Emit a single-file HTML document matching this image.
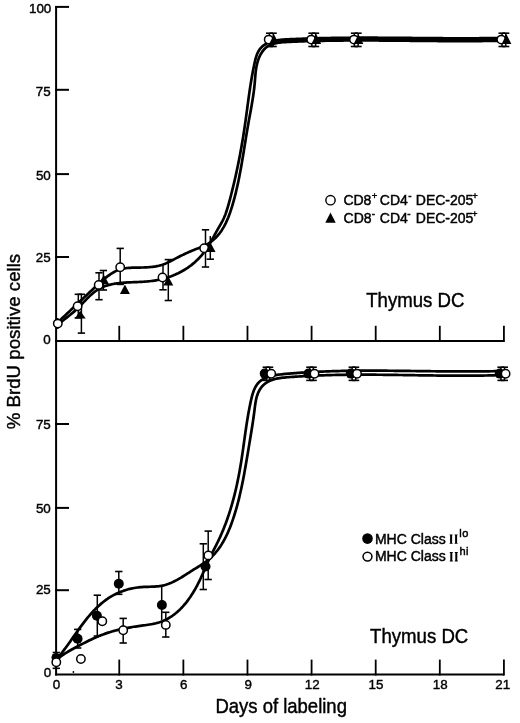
<!DOCTYPE html>
<html><head><meta charset="utf-8"><style>
html,body{margin:0;padding:0;background:#fff;}
svg{display:block;will-change:transform;}
text{font-family:"Liberation Sans",sans-serif;fill:#000;}
text.serif{font-family:"Liberation Serif",serif;}
</style></head><body>
<svg width="520" height="723" viewBox="0 0 520 723">
<rect width="520" height="723" fill="#fff"/>
<line x1="56.1" y1="5.9" x2="56.1" y2="675.5" stroke="#000" stroke-width="2.0"/>
<line x1="55.1" y1="6.9" x2="69" y2="6.9" stroke="#000" stroke-width="2.0"/>
<line x1="55.1" y1="89.8" x2="69" y2="89.8" stroke="#000" stroke-width="2.0"/>
<line x1="55.1" y1="174.1" x2="69" y2="174.1" stroke="#000" stroke-width="2.0"/>
<line x1="55.1" y1="257.0" x2="69" y2="257.0" stroke="#000" stroke-width="2.0"/>
<line x1="55.1" y1="424.0" x2="69" y2="424.0" stroke="#000" stroke-width="2.0"/>
<line x1="55.1" y1="507.9" x2="69" y2="507.9" stroke="#000" stroke-width="2.0"/>
<line x1="55.1" y1="590.2" x2="69" y2="590.2" stroke="#000" stroke-width="2.0"/>
<line x1="55.1" y1="341.0" x2="504.3" y2="341.0" stroke="#000" stroke-width="2.0"/>
<line x1="119.26" y1="325.8" x2="119.26" y2="342.0" stroke="#000" stroke-width="1.8"/>
<line x1="183.37" y1="325.8" x2="183.37" y2="342.0" stroke="#000" stroke-width="1.8"/>
<line x1="247.48" y1="325.8" x2="247.48" y2="342.0" stroke="#000" stroke-width="1.8"/>
<line x1="311.59" y1="325.8" x2="311.59" y2="342.0" stroke="#000" stroke-width="1.8"/>
<line x1="375.70" y1="325.8" x2="375.70" y2="342.0" stroke="#000" stroke-width="1.8"/>
<line x1="439.81" y1="325.8" x2="439.81" y2="342.0" stroke="#000" stroke-width="1.8"/>
<line x1="503.92" y1="325.8" x2="503.92" y2="342.0" stroke="#000" stroke-width="1.8"/>
<line x1="55.1" y1="674.5" x2="504.3" y2="674.5" stroke="#000" stroke-width="2.0"/>
<line x1="119.26" y1="659.6" x2="119.26" y2="675.5" stroke="#000" stroke-width="1.8"/>
<line x1="183.37" y1="659.6" x2="183.37" y2="675.5" stroke="#000" stroke-width="1.8"/>
<line x1="247.48" y1="659.6" x2="247.48" y2="675.5" stroke="#000" stroke-width="1.8"/>
<line x1="311.59" y1="659.6" x2="311.59" y2="675.5" stroke="#000" stroke-width="1.8"/>
<line x1="375.70" y1="659.6" x2="375.70" y2="675.5" stroke="#000" stroke-width="1.8"/>
<line x1="439.81" y1="659.6" x2="439.81" y2="675.5" stroke="#000" stroke-width="1.8"/>
<line x1="503.92" y1="659.6" x2="503.92" y2="675.5" stroke="#000" stroke-width="1.8"/>
<text x="51.3" y="13.0" font-size="13.4" text-anchor="end" stroke="#000" stroke-width="0.4">100</text>
<text x="50.6" y="95.8" font-size="13.4" text-anchor="end" stroke="#000" stroke-width="0.4">75</text>
<text x="50.8" y="179.6" font-size="13.4" text-anchor="end" stroke="#000" stroke-width="0.4">50</text>
<text x="50.6" y="262.2" font-size="13.4" text-anchor="end" stroke="#000" stroke-width="0.4">25</text>
<text x="50.8" y="344.2" font-size="13.4" text-anchor="end" stroke="#000" stroke-width="0.4">0</text>
<text x="50.8" y="428.6" font-size="13.4" text-anchor="end" stroke="#000" stroke-width="0.4">75</text>
<text x="50.8" y="512.5" font-size="13.4" text-anchor="end" stroke="#000" stroke-width="0.4">50</text>
<text x="50.8" y="594.4" font-size="13.4" text-anchor="end" stroke="#000" stroke-width="0.4">25</text>
<text x="51.2" y="676.7" font-size="13.4" text-anchor="end" stroke="#000" stroke-width="0.4">0</text>
<text x="56.5" y="689.2" font-size="13.4" text-anchor="middle" stroke="#000" stroke-width="0.4">0</text>
<text x="118.9" y="689.2" font-size="13.4" text-anchor="middle" stroke="#000" stroke-width="0.4">3</text>
<text x="183.8" y="689.2" font-size="13.4" text-anchor="middle" stroke="#000" stroke-width="0.4">6</text>
<text x="248.3" y="689.2" font-size="13.4" text-anchor="middle" stroke="#000" stroke-width="0.4">9</text>
<text x="312.3" y="689.2" font-size="13.4" text-anchor="middle" stroke="#000" stroke-width="0.4">12</text>
<text x="376.0" y="689.2" font-size="13.4" text-anchor="middle" stroke="#000" stroke-width="0.4">15</text>
<text x="440.3" y="689.2" font-size="13.4" text-anchor="middle" stroke="#000" stroke-width="0.4">18</text>
<text x="502.7" y="689.2" font-size="13.4" text-anchor="middle" stroke="#000" stroke-width="0.4">21</text>
<text transform="translate(215.4,712.7) scale(1,1.05)" x="0" y="0" font-size="18.5" stroke="#000" stroke-width="0.4">Days of labeling</text>
<text transform="translate(20.3,429.3) rotate(-90) scale(1,1.0)" x="0" y="0" font-size="18.7" stroke="#000" stroke-width="0.4">% BrdU positive cells</text>
<text transform="translate(366.2,307.4) scale(1,1.05)" x="0" y="0" font-size="18.6" stroke="#000" stroke-width="0.4">Thymus DC</text>
<text transform="translate(370.1,642.8) scale(1,1.05)" x="0" y="0" font-size="18.6" stroke="#000" stroke-width="0.4">Thymus DC</text>
<path d="M57.67,322.30L58.83,321.24L59.98,320.18L61.12,319.12L62.27,318.06L63.41,317.00L64.55,315.94L65.68,314.88L66.81,313.82L67.94,312.75L69.07,311.69L70.19,310.63L71.32,309.57L72.44,308.51L73.56,307.44L74.68,306.38L75.80,305.32L76.92,304.26L78.04,303.19L79.16,302.13L80.28,301.07L81.40,300.01L82.52,298.94L83.65,297.88L84.77,296.82L85.89,295.76L87.02,294.70L88.15,293.63L89.28,292.57L90.42,291.51L91.56,290.45L92.70,289.39L93.84,288.33L94.99,287.26L96.14,286.20L97.30,285.14L98.46,284.08L99.62,283.02L100.79,281.97L101.97,280.92L103.16,279.88L104.35,278.86L105.56,277.86L106.78,276.89L108.02,275.95L109.27,275.04L110.53,274.16L111.82,273.33L113.12,272.55L114.45,271.82L115.80,271.14L117.17,270.52L118.56,269.97L119.99,269.48L121.44,269.07L122.91,268.72L124.41,268.44L125.93,268.21L127.47,268.02L129.02,267.88L130.59,267.78L132.17,267.70L133.76,267.65L135.35,267.61L136.95,267.59L138.54,267.57L140.14,267.55L141.73,267.52L143.32,267.48L144.90,267.42L146.48,267.35L148.04,267.25L149.60,267.13L151.15,266.99L152.69,266.81L154.21,266.60L155.72,266.36L157.22,266.07L158.70,265.75L160.16,265.38L161.61,264.95L163.04,264.48L164.45,263.95L165.84,263.38L167.22,262.77L168.59,262.12L169.95,261.44L171.31,260.75L172.67,260.05L174.03,259.33L175.39,258.62L176.76,257.92L178.13,257.21L179.51,256.51L180.90,255.82L182.30,255.13L183.71,254.45L185.13,253.78L186.56,253.11L188.01,252.45L189.46,251.81L190.93,251.17L192.42,250.54L193.92,249.93L195.44,249.33L196.97,248.74L198.52,248.16L200.07,247.58L201.60,246.98L203.10,246.35L204.56,245.68L205.98,244.97L207.34,244.22L208.66,243.42L209.93,242.57L211.16,241.69L212.35,240.77L213.50,239.81L214.60,238.81L215.67,237.78L216.69,236.71L217.68,235.61L218.64,234.48L219.56,233.32L220.44,232.13L221.29,230.91L222.11,229.66L222.90,228.39L223.66,227.10L224.39,225.78L225.10,224.44L225.78,223.08L226.43,221.70L227.06,220.31L227.67,218.89L228.26,217.47L228.82,216.03L229.37,214.57L229.90,213.11L230.41,211.64L230.90,210.15L231.38,208.66L231.85,207.17L232.30,205.67L232.74,204.16L233.18,202.66L233.60,201.15L234.01,199.64L234.42,198.13L234.81,196.62L235.20,195.11L235.58,193.59L235.95,192.08L236.31,190.56L236.67,189.05L237.02,187.53L237.36,186.01L237.69,184.49L238.02,182.97L238.34,181.44L238.65,179.92L238.96,178.40L239.27,176.87L239.57,175.35L239.86,173.82L240.15,172.30L240.43,170.77L240.71,169.24L240.99,167.71L241.26,166.18L241.53,164.66L241.79,163.13L242.06,161.60L242.32,160.07L242.57,158.54L242.83,157.01L243.08,155.48L243.33,153.95L243.58,152.42L243.83,150.89L244.08,149.35L244.32,147.82L244.57,146.29L244.82,144.76L245.06,143.23L245.31,141.70L245.56,140.17L245.80,138.65L246.05,137.12L246.30,135.59L246.55,134.06L246.81,132.53L247.06,131.01L247.32,129.48L247.58,127.95L247.85,126.43L248.11,124.91L248.38,123.38L248.65,121.86L248.93,120.34L249.21,118.82L249.49,117.29L249.77,115.77L250.04,114.25L250.32,112.73L250.60,111.21L250.88,109.69L251.15,108.16L251.42,106.64L251.69,105.12L251.95,103.59L252.21,102.06L252.46,100.54L252.71,99.01L252.94,97.48L253.18,95.94L253.40,94.41L253.61,92.87L253.82,91.34L254.01,89.79L254.20,88.25L254.37,86.71L254.53,85.16L254.68,83.61L254.81,82.05L254.94,80.49L255.06,78.94L255.18,77.38L255.31,75.82L255.45,74.25L255.60,72.69L255.78,71.14L255.99,69.58L256.22,68.03L256.50,66.48L256.82,64.93L257.18,63.39L257.60,61.85L258.08,60.33L258.61,58.82L259.20,57.34L259.85,55.90L260.56,54.51L261.33,53.16L262.16,51.88L263.05,50.67L264.00,49.53L265.01,48.49L266.09,47.54L267.23,46.69L268.43,45.93L269.68,45.26L270.98,44.68L272.34,44.17L273.73,43.74L275.16,43.36L276.63,43.05L278.13,42.78L279.65,42.57L281.20,42.39L282.76,42.24L284.34,42.13L285.93,42.03L287.53,41.95L289.13,41.87L290.72,41.80L292.32,41.74L293.91,41.67L295.51,41.61L297.10,41.54L298.69,41.48L300.28,41.43L301.86,41.37L303.45,41.32L305.03,41.26L306.61,41.21L308.19,41.17L309.77,41.12L311.35,41.08L312.93,41.03L314.50,40.99L316.08,40.95L317.65,40.92L319.22,40.88L320.79,40.85L322.36,40.82L323.93,40.79L325.49,40.76L327.06,40.73L328.62,40.70L330.19,40.68L331.75,40.66L333.31,40.63L334.87,40.61L336.43,40.60L337.99,40.58L339.54,40.56L341.10,40.55L342.65,40.53L344.21,40.52L345.76,40.51L347.31,40.50L348.87,40.49L350.42,40.49L351.97,40.48L353.51,40.47L355.06,40.47L356.61,40.47L358.16,40.47L359.70,40.46L361.25,40.46L362.79,40.47L364.34,40.47L365.88,40.47L367.43,40.47L368.97,40.48L370.51,40.48L372.05,40.49L373.59,40.49L375.13,40.50L376.68,40.51L378.22,40.52L379.75,40.53L381.29,40.53L382.83,40.54L384.37,40.56L385.91,40.57L387.45,40.58L388.99,40.59L390.52,40.60L392.06,40.61L393.60,40.63L395.14,40.64L396.67,40.65L398.21,40.67L399.75,40.68L401.28,40.70L402.82,40.71L404.36,40.73L405.89,40.74L407.43,40.76L408.97,40.77L410.51,40.79L412.04,40.80L413.58,40.82L415.12,40.83L416.66,40.85L418.19,40.86L419.73,40.88L421.27,40.89L422.81,40.90L424.35,40.92L425.89,40.93L427.43,40.95L428.97,40.96L430.51,40.97L432.05,40.98L433.59,41.00L435.13,41.01L436.67,41.02L438.22,41.03L439.76,41.04L441.30,41.05L442.85,41.06L444.39,41.07L445.94,41.08L447.48,41.08L449.03,41.09L450.58,41.10L452.13,41.10L453.68,41.11L455.23,41.11L456.78,41.11L458.33,41.12L459.88,41.12L461.43,41.12L462.99,41.12L464.54,41.12L466.10,41.11L467.66,41.11L469.21,41.11L470.77,41.10L472.33,41.09L473.89,41.08L475.46,41.08L477.02,41.07L478.58,41.05L480.15,41.04L481.72,41.03L483.28,41.01L484.85,41.00L486.42,40.98L487.99,40.96L489.57,40.94L491.14,40.92L492.72,40.89L494.29,40.87L495.87,40.84L497.45,40.81L499.03,40.78" fill="none" stroke="#000" stroke-width="2.7" stroke-linecap="round" stroke-linejoin="round"/>
<path d="M57.80,324.86L59.05,323.79L60.28,322.75L61.51,321.73L62.74,320.74L63.96,319.76L65.17,318.80L66.38,317.85L67.58,316.90L68.77,315.96L69.95,315.01L71.13,314.06L72.30,313.09L73.47,312.11L74.63,311.11L75.78,310.09L76.92,309.03L78.06,307.95L79.19,306.84L80.31,305.70L81.44,304.54L82.56,303.37L83.68,302.19L84.81,301.00L85.94,299.82L87.07,298.65L88.22,297.50L89.38,296.37L90.55,295.27L91.73,294.20L92.93,293.16L94.15,292.18L95.39,291.24L96.65,290.37L97.93,289.55L99.24,288.79L100.56,288.09L101.91,287.45L103.28,286.86L104.67,286.31L106.08,285.82L107.50,285.37L108.95,284.96L110.40,284.59L111.88,284.26L113.36,283.96L114.86,283.70L116.38,283.46L117.90,283.26L119.44,283.08L120.99,282.92L122.55,282.78L124.11,282.66L125.68,282.56L127.26,282.47L128.85,282.39L130.44,282.32L132.04,282.25L133.64,282.19L135.24,282.13L136.85,282.07L138.46,282.00L140.06,281.93L141.67,281.84L143.28,281.75L144.88,281.65L146.48,281.52L148.08,281.38L149.67,281.22L151.26,281.03L152.84,280.82L154.41,280.58L155.98,280.32L157.54,280.03L159.09,279.71L160.63,279.37L162.17,279.00L163.69,278.60L165.20,278.18L166.71,277.73L168.20,277.25L169.68,276.75L171.15,276.22L172.60,275.66L174.04,275.08L175.47,274.47L176.88,273.83L178.28,273.17L179.66,272.48L181.03,271.77L182.38,271.03L183.72,270.26L185.03,269.47L186.33,268.64L187.61,267.80L188.87,266.92L190.12,266.02L191.34,265.10L192.54,264.14L193.72,263.16L194.88,262.16L196.02,261.12L197.14,260.06L198.23,258.98L199.30,257.86L200.35,256.73L201.37,255.56L202.36,254.37L203.33,253.15L204.28,251.90L205.20,250.63L206.10,249.34L206.98,248.03L207.83,246.70L208.67,245.35L209.50,243.99L210.31,242.61L211.11,241.23L211.90,239.84L212.69,238.44L213.47,237.04L214.24,235.64L215.01,234.24L215.78,232.84L216.55,231.45L217.32,230.06L218.10,228.68L218.89,227.32L219.68,225.96L220.46,224.61L221.23,223.25L221.98,221.90L222.70,220.53L223.38,219.14L224.02,217.74L224.62,216.32L225.19,214.89L225.73,213.44L226.23,211.98L226.72,210.51L227.19,209.03L227.63,207.54L228.07,206.05L228.49,204.55L228.91,203.05L229.32,201.55L229.73,200.04L230.13,198.53L230.53,197.02L230.93,195.51L231.32,194.00L231.70,192.48L232.09,190.96L232.47,189.44L232.84,187.92L233.21,186.40L233.58,184.88L233.94,183.35L234.30,181.82L234.66,180.29L235.01,178.76L235.36,177.23L235.70,175.70L236.04,174.16L236.38,172.63L236.71,171.09L237.04,169.55L237.36,168.01L237.68,166.47L238.00,164.93L238.32,163.39L238.62,161.85L238.93,160.31L239.23,158.76L239.53,157.22L239.83,155.67L240.12,154.13L240.41,152.58L240.69,151.03L240.97,149.49L241.25,147.94L241.52,146.39L241.79,144.85L242.06,143.30L242.32,141.75L242.58,140.20L242.84,138.65L243.09,137.11L243.34,135.56L243.58,134.01L243.82,132.46L244.06,130.92L244.30,129.37L244.53,127.82L244.76,126.28L244.98,124.73L245.21,123.19L245.43,121.65L245.64,120.10L245.86,118.56L246.07,117.02L246.28,115.47L246.48,113.93L246.69,112.39L246.90,110.85L247.10,109.31L247.31,107.76L247.51,106.22L247.72,104.68L247.93,103.14L248.13,101.60L248.34,100.05L248.55,98.51L248.77,96.97L248.98,95.42L249.20,93.88L249.42,92.33L249.65,90.79L249.87,89.24L250.11,87.69L250.34,86.14L250.58,84.59L250.83,83.04L251.08,81.49L251.34,79.94L251.60,78.38L251.87,76.83L252.15,75.27L252.43,73.72L252.72,72.16L253.02,70.60L253.32,69.03L253.64,67.47L253.96,65.90L254.29,64.34L254.63,62.77L254.98,61.20L255.36,59.64L255.76,58.09L256.21,56.57L256.72,55.08L257.29,53.63L257.94,52.24L258.67,50.90L259.50,49.63L260.43,48.43L261.44,47.32L262.52,46.29L263.66,45.36L264.86,44.52L266.10,43.76L267.39,43.09L268.73,42.49L270.11,41.96L271.52,41.50L272.97,41.10L274.45,40.76L275.96,40.46L277.50,40.21L279.05,40.00L280.63,39.82L282.22,39.68L283.82,39.56L285.43,39.45L287.04,39.36L288.66,39.28L290.28,39.21L291.90,39.14L293.51,39.06L295.12,39.00L296.73,38.93L298.34,38.86L299.95,38.80L301.55,38.74L303.15,38.68L304.76,38.63L306.36,38.57L307.95,38.52L309.55,38.47L311.14,38.42L312.74,38.38L314.33,38.33L315.92,38.29L317.51,38.25L319.10,38.21L320.68,38.17L322.27,38.13L323.85,38.10L325.43,38.07L327.01,38.03L328.59,38.01L330.17,37.98L331.75,37.95L333.32,37.93L334.90,37.90L336.47,37.88L338.05,37.86L339.62,37.84L341.19,37.82L342.76,37.81L344.32,37.79L345.89,37.78L347.46,37.77L349.02,37.75L350.59,37.74L352.15,37.73L353.71,37.73L355.28,37.72L356.84,37.71L358.40,37.71L359.96,37.71L361.52,37.70L363.07,37.70L364.63,37.70L366.19,37.70L367.74,37.70L369.30,37.70L370.86,37.71L372.41,37.71L373.96,37.71L375.52,37.72L377.07,37.72L378.62,37.73L380.18,37.74L381.73,37.74L383.28,37.75L384.83,37.76L386.38,37.77L387.93,37.78L389.48,37.79L391.03,37.80L392.59,37.81L394.14,37.82L395.69,37.84L397.23,37.85L398.78,37.86L400.33,37.87L401.88,37.89L403.43,37.90L404.98,37.91L406.53,37.93L408.08,37.94L409.63,37.95L411.18,37.97L412.73,37.98L414.28,38.00L415.84,38.01L417.39,38.02L418.94,38.04L420.49,38.05L422.04,38.07L423.59,38.08L425.15,38.09L426.70,38.11L428.25,38.12L429.81,38.13L431.36,38.14L432.92,38.16L434.47,38.17L436.03,38.18L437.58,38.19L439.14,38.20L440.70,38.21L442.26,38.22L443.82,38.23L445.38,38.24L446.94,38.24L448.50,38.25L450.06,38.26L451.62,38.26L453.19,38.27L454.75,38.27L456.32,38.28L457.89,38.28L459.45,38.28L461.02,38.28L462.59,38.28L464.16,38.28L465.73,38.28L467.31,38.28L468.88,38.28L470.46,38.27L472.03,38.27L473.61,38.26L475.19,38.25L476.77,38.24L478.35,38.24L479.93,38.22L481.52,38.21L483.10,38.20L484.69,38.18L486.28,38.17L487.87,38.15L489.46,38.13L491.05,38.11L492.65,38.09L494.24,38.07L495.84,38.04L497.44,38.02L499.04,37.99" fill="none" stroke="#000" stroke-width="2.7" stroke-linecap="round" stroke-linejoin="round"/>
<path d="M56.21,659.74L57.18,658.62L58.13,657.49L59.07,656.34L60.01,655.18L60.94,654.00L61.87,652.82L62.79,651.61L63.70,650.40L64.62,649.18L65.52,647.95L66.43,646.70L67.33,645.46L68.23,644.20L69.13,642.94L70.03,641.67L70.92,640.40L71.82,639.12L72.72,637.84L73.62,636.56L74.52,635.28L75.42,634.00L76.33,632.72L77.23,631.44L78.15,630.16L79.06,628.89L79.99,627.62L80.91,626.36L81.85,625.10L82.79,623.84L83.74,622.60L84.69,621.36L85.65,620.13L86.63,618.92L87.61,617.71L88.60,616.51L89.60,615.33L90.61,614.16L91.64,613.01L92.67,611.87L93.72,610.74L94.78,609.63L95.86,608.55L96.95,607.47L98.05,606.42L99.17,605.39L100.31,604.38L101.46,603.39L102.63,602.42L103.81,601.48L105.02,600.56L106.24,599.67L107.48,598.80L108.74,597.96L110.02,597.15L111.32,596.36L112.64,595.61L113.98,594.88L115.34,594.19L116.72,593.52L118.11,592.88L119.52,592.28L120.95,591.70L122.39,591.16L123.84,590.65L125.31,590.17L126.79,589.72L128.28,589.30L129.79,588.92L131.30,588.57L132.82,588.25L134.36,587.97L135.90,587.72L137.45,587.50L139.00,587.32L140.56,587.17L142.13,587.06L143.70,586.97L145.27,586.90L146.84,586.85L148.41,586.80L149.98,586.76L151.54,586.71L153.09,586.64L154.64,586.56L156.18,586.45L157.70,586.32L159.21,586.14L160.71,585.92L162.19,585.65L163.65,585.33L165.10,584.95L166.53,584.52L167.94,584.05L169.34,583.53L170.73,582.97L172.11,582.36L173.47,581.73L174.83,581.06L176.18,580.35L177.52,579.63L178.86,578.87L180.19,578.09L181.51,577.30L182.84,576.48L184.16,575.66L185.48,574.82L186.80,573.97L188.12,573.12L189.45,572.27L190.78,571.42L192.11,570.56L193.45,569.72L194.80,568.88L196.15,568.05L197.50,567.23L198.85,566.40L200.18,565.57L201.51,564.72L202.82,563.87L204.11,563.00L205.38,562.10L206.62,561.18L207.82,560.24L208.99,559.26L210.14,558.26L211.25,557.23L212.33,556.17L213.38,555.09L214.40,553.98L215.40,552.86L216.37,551.70L217.31,550.53L218.22,549.33L219.11,548.12L219.98,546.88L220.82,545.63L221.63,544.35L222.43,543.06L223.20,541.75L223.95,540.43L224.68,539.09L225.39,537.74L226.07,536.37L226.74,534.99L227.39,533.60L228.03,532.19L228.64,530.78L229.24,529.35L229.83,527.92L230.39,526.48L230.95,525.03L231.49,523.57L232.01,522.11L232.53,520.64L233.03,519.17L233.52,517.69L234.00,516.22L234.46,514.73L234.92,513.25L235.37,511.76L235.81,510.28L236.24,508.79L236.67,507.29L237.08,505.80L237.48,504.31L237.88,502.81L238.27,501.31L238.65,499.81L239.02,498.31L239.39,496.81L239.74,495.30L240.09,493.80L240.44,492.29L240.78,490.78L241.11,489.28L241.44,487.77L241.76,486.26L242.07,484.74L242.38,483.23L242.69,481.72L242.99,480.21L243.28,478.69L243.57,477.18L243.86,475.66L244.14,474.15L244.42,472.63L244.70,471.12L244.97,469.60L245.24,468.08L245.51,466.57L245.77,465.05L246.03,463.54L246.29,462.02L246.55,460.50L246.81,458.99L247.06,457.47L247.32,455.96L247.57,454.45L247.82,452.93L248.08,451.42L248.33,449.91L248.58,448.40L248.83,446.89L249.09,445.38L249.34,443.87L249.59,442.36L249.84,440.85L250.09,439.34L250.35,437.83L250.60,436.32L250.84,434.81L251.09,433.30L251.34,431.78L251.58,430.27L251.82,428.75L252.06,427.23L252.30,425.71L252.53,424.18L252.76,422.65L252.99,421.12L253.21,419.59L253.43,418.05L253.65,416.51L253.86,414.96L254.07,413.41L254.28,411.85L254.47,410.29L254.67,408.73L254.86,407.16L255.07,405.59L255.29,404.03L255.53,402.48L255.80,400.94L256.11,399.41L256.46,397.91L256.87,396.43L257.33,394.97L257.86,393.55L258.46,392.16L259.13,390.81L259.86,389.52L260.67,388.28L261.54,387.10L262.49,385.98L263.51,384.95L264.61,383.98L265.76,383.10L266.98,382.29L268.24,381.57L269.55,380.92L270.90,380.34L272.28,379.83L273.70,379.39L275.15,379.00L276.63,378.66L278.13,378.36L279.65,378.11L281.19,377.89L282.75,377.71L284.31,377.54L285.89,377.40L287.47,377.27L289.05,377.14L290.62,377.02L292.20,376.91L293.78,376.80L295.35,376.69L296.93,376.58L298.50,376.48L300.07,376.39L301.64,376.29L303.21,376.20L304.77,376.11L306.34,376.03L307.91,375.94L309.47,375.86L311.03,375.79L312.59,375.72L314.15,375.65L315.71,375.58L317.27,375.51L318.83,375.45L320.38,375.39L321.94,375.34L323.49,375.28L325.05,375.23L326.60,375.18L328.15,375.14L329.70,375.10L331.25,375.05L332.80,375.02L334.35,374.98L335.89,374.95L337.44,374.91L338.98,374.89L340.53,374.86L342.07,374.83L343.62,374.81L345.16,374.79L346.70,374.77L348.24,374.75L349.78,374.74L351.32,374.72L352.86,374.71L354.40,374.70L355.94,374.69L357.47,374.69L359.01,374.68L360.55,374.68L362.08,374.68L363.62,374.68L365.15,374.68L366.69,374.68L368.22,374.68L369.75,374.69L371.29,374.70L372.82,374.70L374.35,374.71L375.88,374.72L377.41,374.73L378.94,374.75L380.48,374.76L382.01,374.77L383.54,374.79L385.07,374.80L386.60,374.82L388.13,374.84L389.66,374.86L391.19,374.87L392.72,374.89L394.25,374.91L395.77,374.93L397.30,374.95L398.83,374.98L400.36,375.00L401.89,375.02L403.42,375.04L404.95,375.07L406.48,375.09L408.01,375.11L409.54,375.13L411.07,375.16L412.60,375.18L414.13,375.21L415.65,375.23L417.18,375.25L418.72,375.28L420.25,375.30L421.78,375.32L423.31,375.34L424.84,375.37L426.37,375.39L427.90,375.41L429.43,375.43L430.97,375.45L432.50,375.47L434.03,375.49L435.57,375.51L437.10,375.53L438.63,375.54L440.17,375.56L441.70,375.58L443.24,375.59L444.78,375.61L446.31,375.62L447.85,375.63L449.39,375.64L450.93,375.65L452.47,375.66L454.01,375.67L455.55,375.67L457.09,375.68L458.63,375.68L460.17,375.69L461.72,375.69L463.26,375.69L464.81,375.69L466.35,375.68L467.90,375.68L469.45,375.67L470.99,375.66L472.54,375.65L474.09,375.64L475.64,375.63L477.20,375.61L478.75,375.60L480.30,375.58L481.86,375.56L483.41,375.53L484.97,375.51L486.53,375.48L488.09,375.45L489.65,375.42L491.21,375.39L492.77,375.35L494.33,375.31L495.90,375.27L497.46,375.23L499.03,375.18" fill="none" stroke="#000" stroke-width="2.7" stroke-linecap="round" stroke-linejoin="round"/>
<path d="M56.15,660.29L57.31,659.26L58.49,658.26L59.70,657.30L60.92,656.36L62.17,655.45L63.44,654.57L64.72,653.72L66.02,652.88L67.34,652.07L68.67,651.27L70.02,650.49L71.37,649.72L72.74,648.97L74.11,648.22L75.49,647.48L76.88,646.75L78.26,646.02L79.66,645.29L81.05,644.57L82.45,643.85L83.85,643.13L85.26,642.42L86.66,641.72L88.07,641.02L89.49,640.33L90.91,639.66L92.33,638.99L93.75,638.34L95.18,637.69L96.61,637.07L98.05,636.45L99.49,635.85L100.93,635.27L102.38,634.71L103.84,634.16L105.29,633.64L106.75,633.13L108.22,632.65L109.69,632.18L111.17,631.73L112.65,631.30L114.13,630.89L115.62,630.49L117.11,630.11L118.61,629.75L120.12,629.40L121.63,629.06L123.14,628.74L124.66,628.43L126.18,628.13L127.71,627.84L129.25,627.57L130.79,627.30L132.33,627.04L133.88,626.79L135.44,626.55L137.00,626.32L138.57,626.10L140.14,625.88L141.72,625.66L143.30,625.45L144.89,625.23L146.47,625.01L148.04,624.77L149.62,624.52L151.18,624.25L152.73,623.96L154.27,623.64L155.80,623.29L157.30,622.90L158.79,622.47L160.26,622.00L161.70,621.48L163.12,620.92L164.51,620.31L165.88,619.65L167.23,618.96L168.55,618.22L169.85,617.44L171.13,616.63L172.39,615.77L173.62,614.88L174.83,613.96L176.02,613.00L177.19,612.01L178.33,610.98L179.46,609.93L180.56,608.85L181.64,607.74L182.71,606.60L183.75,605.44L184.77,604.25L185.77,603.04L186.75,601.81L187.70,600.56L188.64,599.28L189.56,597.99L190.47,596.69L191.35,595.37L192.21,594.03L193.05,592.68L193.88,591.32L194.68,589.95L195.47,588.57L196.24,587.18L197.00,585.78L197.73,584.38L198.45,582.97L199.15,581.56L199.83,580.14L200.50,578.73L201.15,577.31L201.79,575.89L202.43,574.47L203.05,573.05L203.67,571.63L204.29,570.22L204.90,568.80L205.51,567.38L206.13,565.96L206.74,564.55L207.36,563.14L207.99,561.73L208.63,560.32L209.28,558.92L209.94,557.52L210.61,556.13L211.30,554.74L211.99,553.35L212.69,551.96L213.40,550.57L214.11,549.19L214.82,547.80L215.53,546.41L216.23,545.02L216.93,543.63L217.62,542.23L218.30,540.83L218.97,539.42L219.63,538.01L220.28,536.59L220.91,535.17L221.54,533.74L222.15,532.31L222.75,530.88L223.35,529.44L223.93,527.99L224.50,526.55L225.06,525.09L225.62,523.64L226.16,522.18L226.69,520.71L227.22,519.24L227.73,517.77L228.23,516.30L228.73,514.82L229.22,513.34L229.69,511.85L230.16,510.37L230.62,508.88L231.07,507.38L231.51,505.88L231.95,504.39L232.37,502.88L232.79,501.38L233.20,499.87L233.60,498.36L234.00,496.85L234.38,495.34L234.76,493.82L235.14,492.30L235.50,490.78L235.86,489.26L236.21,487.74L236.55,486.21L236.89,484.68L237.22,483.16L237.54,481.63L237.85,480.10L238.17,478.56L238.47,477.03L238.77,475.50L239.06,473.96L239.34,472.43L239.63,470.89L239.90,469.35L240.17,467.82L240.43,466.28L240.69,464.74L240.94,463.20L241.19,461.66L241.44,460.13L241.68,458.59L241.91,457.05L242.14,455.51L242.37,453.97L242.59,452.43L242.82,450.89L243.04,449.35L243.25,447.81L243.47,446.27L243.68,444.73L243.90,443.19L244.11,441.65L244.33,440.11L244.54,438.57L244.76,437.02L244.97,435.48L245.19,433.94L245.41,432.39L245.63,430.85L245.86,429.30L246.09,427.76L246.32,426.21L246.55,424.66L246.79,423.11L247.03,421.56L247.28,420.01L247.54,418.46L247.80,416.91L248.06,415.36L248.33,413.80L248.61,412.25L248.90,410.69L249.19,409.13L249.50,407.57L249.81,406.01L250.12,404.45L250.45,402.89L250.79,401.33L251.14,399.77L251.50,398.21L251.89,396.67L252.30,395.14L252.75,393.64L253.23,392.17L253.75,390.73L254.33,389.34L254.95,387.99L255.63,386.70L256.37,385.47L257.18,384.30L258.07,383.20L259.03,382.19L260.07,381.25L261.19,380.39L262.38,379.60L263.63,378.89L264.95,378.24L266.31,377.65L267.73,377.12L269.18,376.65L270.68,376.22L272.20,375.84L273.75,375.51L275.32,375.20L276.91,374.94L278.50,374.70L280.09,374.49L281.69,374.29L283.29,374.12L284.88,373.96L286.48,373.82L288.07,373.68L289.67,373.55L291.26,373.42L292.85,373.30L294.44,373.17L296.03,373.06L297.62,372.94L299.20,372.83L300.79,372.72L302.37,372.62L303.96,372.52L305.54,372.42L307.12,372.33L308.70,372.24L310.28,372.15L311.86,372.06L313.43,371.98L315.01,371.90L316.58,371.83L318.16,371.75L319.73,371.68L321.30,371.61L322.88,371.55L324.45,371.49L326.01,371.43L327.58,371.37L329.15,371.32L330.72,371.27L332.28,371.22L333.85,371.17L335.41,371.12L336.98,371.08L338.54,371.04L340.10,371.01L341.67,370.97L343.23,370.94L344.79,370.91L346.35,370.88L347.91,370.85L349.46,370.83L351.02,370.80L352.58,370.78L354.14,370.76L355.69,370.75L357.25,370.73L358.80,370.72L360.36,370.71L361.91,370.70L363.47,370.69L365.02,370.68L366.57,370.67L368.13,370.67L369.68,370.67L371.23,370.67L372.78,370.67L374.33,370.67L375.89,370.67L377.44,370.67L378.99,370.68L380.54,370.68L382.09,370.69L383.64,370.70L385.19,370.71L386.74,370.72L388.29,370.73L389.84,370.74L391.38,370.76L392.93,370.77L394.48,370.78L396.03,370.80L397.58,370.81L399.13,370.83L400.68,370.85L402.23,370.86L403.78,370.88L405.33,370.90L406.87,370.92L408.42,370.94L409.97,370.96L411.52,370.98L413.07,371.00L414.62,371.02L416.17,371.04L417.72,371.06L419.27,371.08L420.82,371.10L422.37,371.12L423.92,371.14L425.47,371.16L427.03,371.18L428.58,371.19L430.13,371.21L431.68,371.23L433.24,371.25L434.79,371.27L436.34,371.29L437.90,371.30L439.45,371.32L441.01,371.34L442.56,371.35L444.12,371.36L445.67,371.38L447.23,371.39L448.79,371.40L450.35,371.42L451.91,371.43L453.46,371.44L455.02,371.44L456.59,371.45L458.15,371.46L459.71,371.46L461.27,371.47L462.83,371.47L464.40,371.47L465.96,371.47L467.53,371.47L469.10,371.47L470.66,371.47L472.23,371.46L473.80,371.45L475.37,371.44L476.94,371.43L478.51,371.42L480.08,371.41L481.66,371.40L483.23,371.38L484.81,371.36L486.38,371.34L487.96,371.32L489.54,371.29L491.12,371.27L492.70,371.24L494.28,371.21L495.86,371.18L497.44,371.14L499.03,371.10" fill="none" stroke="#000" stroke-width="2.7" stroke-linecap="round" stroke-linejoin="round"/>
<path d="M274.00,42.26L275.00,42.02L276.00,41.81L277.00,41.63L278.00,41.47L279.00,41.33L280.00,41.21L281.00,41.10L282.00,41.00L283.00,40.92L284.00,40.85L285.00,40.78L286.00,40.72L287.00,40.67L288.00,40.62L289.00,40.57L290.00,40.53L291.00,40.48L292.00,40.44L293.00,40.40L294.00,40.35L295.00,40.31L296.00,40.27L297.00,40.23L298.00,40.19L299.00,40.16L300.00,40.12L301.00,40.08L302.00,40.05L303.00,40.01L304.00,39.98L305.00,39.94L306.00,39.91L307.00,39.88L308.00,39.85L309.00,39.82L310.00,39.79L311.00,39.76L312.00,39.73L313.00,39.70L314.00,39.67L315.00,39.65L316.00,39.62L317.00,39.60L318.00,39.57L319.00,39.55L320.00,39.52L321.00,39.50L322.00,39.48L323.00,39.46L324.00,39.44L325.00,39.42L326.00,39.40L327.00,39.38L328.00,39.36L329.00,39.35L330.00,39.33L331.00,39.32L332.00,39.30L333.00,39.28L334.00,39.27L335.00,39.26L336.00,39.24L337.00,39.23L338.00,39.22L339.00,39.21L340.00,39.20L341.00,39.19L342.00,39.18L343.00,39.17L344.00,39.16L345.00,39.15L346.00,39.14L347.00,39.14L348.00,39.13L349.00,39.12L350.00,39.12L351.00,39.11L352.00,39.11L353.00,39.10L354.00,39.10L355.00,39.10L356.00,39.09L357.00,39.09L358.00,39.09L359.00,39.09L360.00,39.08L361.00,39.08L362.00,39.08L363.00,39.08L364.00,39.08L365.00,39.08L366.00,39.08L367.00,39.09L368.00,39.09L369.00,39.09L370.00,39.09L371.00,39.09L372.00,39.10L373.00,39.10L374.00,39.10L375.00,39.11L376.00,39.11L377.00,39.12L378.00,39.12L379.00,39.13L380.00,39.13L381.00,39.14L382.00,39.14L383.00,39.15L384.00,39.15L385.00,39.16L386.00,39.17L387.00,39.17L388.00,39.18L389.00,39.19L390.00,39.20L391.00,39.20L392.00,39.21L393.00,39.22L394.00,39.23L395.00,39.24L396.00,39.24L397.00,39.25L398.00,39.26L399.00,39.27L400.00,39.28L401.00,39.29L402.00,39.30L403.00,39.30L404.00,39.31L405.00,39.32L406.00,39.33L407.00,39.34L408.00,39.35L409.00,39.36L410.00,39.37L411.00,39.38L412.00,39.39L413.00,39.40L414.00,39.41L415.00,39.42L416.00,39.43L417.00,39.44L418.00,39.44L419.00,39.45L420.00,39.46L421.00,39.47L422.00,39.48L423.00,39.49L424.00,39.50L425.00,39.51L426.00,39.52L427.00,39.52L428.00,39.53L429.00,39.54L430.00,39.55L431.00,39.56L432.00,39.57L433.00,39.57L434.00,39.58L435.00,39.59L436.00,39.60L437.00,39.60L438.00,39.61L439.00,39.62L440.00,39.62L441.00,39.63L442.00,39.64L443.00,39.64L444.00,39.65L445.00,39.65L446.00,39.66L447.00,39.66L448.00,39.67L449.00,39.67L450.00,39.68L451.00,39.68L452.00,39.68L453.00,39.69L454.00,39.69L455.00,39.69L456.00,39.69L457.00,39.70L458.00,39.70L459.00,39.70L460.00,39.70L461.00,39.70L462.00,39.70L463.00,39.70L464.00,39.70L465.00,39.70L466.00,39.70L467.00,39.70L468.00,39.69L469.00,39.69L470.00,39.69L471.00,39.68L472.00,39.68L473.00,39.68L474.00,39.67L475.00,39.67L476.00,39.66L477.00,39.65L478.00,39.65L479.00,39.64L480.00,39.63L481.00,39.63L482.00,39.62L483.00,39.61L484.00,39.60L485.00,39.59L486.00,39.58L487.00,39.57L488.00,39.55L489.00,39.54L490.00,39.53L491.00,39.52L492.00,39.50L493.00,39.49L494.00,39.47L495.00,39.46L496.00,39.44L497.00,39.42L498.00,39.41" fill="none" stroke="#000" stroke-width="2.6"/>
<line x1="81.4" y1="294.3" x2="81.4" y2="333.1" stroke="#000" stroke-width="1.5"/>
<line x1="77.75" y1="294.3" x2="85.05000000000001" y2="294.3" stroke="#000" stroke-width="1.6"/>
<line x1="77.75" y1="333.1" x2="85.05000000000001" y2="333.1" stroke="#000" stroke-width="1.6"/>
<line x1="78.3" y1="294.3" x2="78.3" y2="317.9" stroke="#000" stroke-width="1.5"/>
<line x1="74.64999999999999" y1="294.3" x2="81.95" y2="294.3" stroke="#000" stroke-width="1.6"/>
<line x1="74.64999999999999" y1="317.9" x2="81.95" y2="317.9" stroke="#000" stroke-width="1.6"/>
<path d="M74.70,318.60 L85.70,318.60 L80.20,310.80 Z" fill="#000"/>
<circle cx="77.6" cy="306.3" r="4.2" fill="#fff" stroke="#000" stroke-width="1.5"/>
<line x1="103.4" y1="270.5" x2="103.4" y2="290" stroke="#000" stroke-width="1.5"/>
<line x1="99.75" y1="270.5" x2="107.05000000000001" y2="270.5" stroke="#000" stroke-width="1.6"/>
<line x1="99.75" y1="290" x2="107.05000000000001" y2="290" stroke="#000" stroke-width="1.6"/>
<line x1="99.0" y1="272.8" x2="99.0" y2="299.7" stroke="#000" stroke-width="1.5"/>
<line x1="95.35" y1="272.8" x2="102.65" y2="272.8" stroke="#000" stroke-width="1.6"/>
<line x1="95.35" y1="299.7" x2="102.65" y2="299.7" stroke="#000" stroke-width="1.6"/>
<path d="M98.55,284.20 L109.05,284.20 L103.80,274.80 Z" fill="#000"/>
<circle cx="98.7" cy="284.9" r="4.2" fill="#fff" stroke="#000" stroke-width="1.5"/>
<line x1="120.2" y1="248.4" x2="120.2" y2="284.4" stroke="#000" stroke-width="1.5"/>
<line x1="116.55" y1="248.4" x2="123.85000000000001" y2="248.4" stroke="#000" stroke-width="1.6"/>
<line x1="116.55" y1="284.4" x2="123.85000000000001" y2="284.4" stroke="#000" stroke-width="1.6"/>
<path d="M119.90,294.00 L129.90,294.00 L124.90,284.40 Z" fill="#000"/>
<circle cx="120.2" cy="267.3" r="4.2" fill="#fff" stroke="#000" stroke-width="1.5"/>
<line x1="168.3" y1="259.6" x2="168.3" y2="300.5" stroke="#000" stroke-width="1.5"/>
<line x1="164.65" y1="259.6" x2="171.95000000000002" y2="259.6" stroke="#000" stroke-width="1.6"/>
<line x1="164.65" y1="300.5" x2="171.95000000000002" y2="300.5" stroke="#000" stroke-width="1.6"/>
<line x1="163.0" y1="265" x2="163.0" y2="289.8" stroke="#000" stroke-width="1.5"/>
<line x1="159.35" y1="289.8" x2="166.65" y2="289.8" stroke="#000" stroke-width="1.6"/>
<circle cx="162.5" cy="277.5" r="4.2" fill="#fff" stroke="#000" stroke-width="1.5"/>
<path d="M163.30,285.50 L173.30,285.50 L168.30,276.50 Z" fill="#000"/>
<line x1="205.5" y1="229.8" x2="205.5" y2="267" stroke="#000" stroke-width="1.5"/>
<line x1="201.85" y1="229.8" x2="209.15" y2="229.8" stroke="#000" stroke-width="1.6"/>
<line x1="201.85" y1="267" x2="209.15" y2="267" stroke="#000" stroke-width="1.6"/>
<line x1="210.3" y1="236" x2="210.3" y2="259.2" stroke="#000" stroke-width="1.5"/>
<line x1="206.65" y1="259.2" x2="213.95000000000002" y2="259.2" stroke="#000" stroke-width="1.6"/>
<circle cx="204.2" cy="248.2" r="4.2" fill="#fff" stroke="#000" stroke-width="1.5"/>
<path d="M205.50,252.00 L215.50,252.00 L210.50,242.40 Z" fill="#000"/>
<line x1="57.8" y1="318" x2="57.8" y2="329" stroke="#000" stroke-width="1.5"/>
<circle cx="57.8" cy="323.6" r="4.2" fill="#fff" stroke="#000" stroke-width="1.5"/>
<line x1="269.45000000000005" y1="33.2" x2="269.45000000000005" y2="46.5" stroke="#000" stroke-width="1.5"/>
<line x1="265.95000000000005" y1="33.2" x2="272.95000000000005" y2="33.2" stroke="#000" stroke-width="1.6"/>
<line x1="265.95000000000005" y1="46.5" x2="272.95000000000005" y2="46.5" stroke="#000" stroke-width="1.6"/>
<line x1="273.25" y1="33.2" x2="273.25" y2="46.5" stroke="#000" stroke-width="1.5"/>
<line x1="269.75" y1="33.2" x2="276.75" y2="33.2" stroke="#000" stroke-width="1.6"/>
<line x1="269.75" y1="46.5" x2="276.75" y2="46.5" stroke="#000" stroke-width="1.6"/>
<circle cx="268.7" cy="39.6" r="4.2" fill="#fff" stroke="#000" stroke-width="1.5"/>
<path d="M269.10,44.10 L278.90,44.10 L274.00,34.30 Z" fill="#000"/>
<line x1="311.85" y1="33.2" x2="311.85" y2="46.5" stroke="#000" stroke-width="1.5"/>
<line x1="308.35" y1="33.2" x2="315.35" y2="33.2" stroke="#000" stroke-width="1.6"/>
<line x1="308.35" y1="46.5" x2="315.35" y2="46.5" stroke="#000" stroke-width="1.6"/>
<line x1="315.65" y1="33.2" x2="315.65" y2="46.5" stroke="#000" stroke-width="1.5"/>
<line x1="312.15" y1="33.2" x2="319.15" y2="33.2" stroke="#000" stroke-width="1.6"/>
<line x1="312.15" y1="46.5" x2="319.15" y2="46.5" stroke="#000" stroke-width="1.6"/>
<circle cx="311.2" cy="39.6" r="4.2" fill="#fff" stroke="#000" stroke-width="1.5"/>
<path d="M311.40,44.10 L321.20,44.10 L316.30,34.30 Z" fill="#000"/>
<line x1="354.35" y1="33.2" x2="354.35" y2="46.5" stroke="#000" stroke-width="1.5"/>
<line x1="350.85" y1="33.2" x2="357.85" y2="33.2" stroke="#000" stroke-width="1.6"/>
<line x1="350.85" y1="46.5" x2="357.85" y2="46.5" stroke="#000" stroke-width="1.6"/>
<line x1="358.15" y1="33.2" x2="358.15" y2="46.5" stroke="#000" stroke-width="1.5"/>
<line x1="354.65" y1="33.2" x2="361.65" y2="33.2" stroke="#000" stroke-width="1.6"/>
<line x1="354.65" y1="46.5" x2="361.65" y2="46.5" stroke="#000" stroke-width="1.6"/>
<circle cx="354.0" cy="39.6" r="4.2" fill="#fff" stroke="#000" stroke-width="1.5"/>
<path d="M353.60,44.10 L363.40,44.10 L358.50,34.30 Z" fill="#000"/>
<line x1="502.0" y1="33.2" x2="502.0" y2="46.5" stroke="#000" stroke-width="1.5"/>
<line x1="498.5" y1="33.2" x2="505.5" y2="33.2" stroke="#000" stroke-width="1.6"/>
<line x1="498.5" y1="46.5" x2="505.5" y2="46.5" stroke="#000" stroke-width="1.6"/>
<line x1="505.79999999999995" y1="33.2" x2="505.79999999999995" y2="46.5" stroke="#000" stroke-width="1.5"/>
<line x1="502.29999999999995" y1="33.2" x2="509.29999999999995" y2="33.2" stroke="#000" stroke-width="1.6"/>
<line x1="502.29999999999995" y1="46.5" x2="509.29999999999995" y2="46.5" stroke="#000" stroke-width="1.6"/>
<circle cx="501.3" cy="39.6" r="4.2" fill="#fff" stroke="#000" stroke-width="1.5"/>
<path d="M501.60,44.10 L511.40,44.10 L506.50,34.30 Z" fill="#000"/>
<line x1="56.3" y1="652.5" x2="56.3" y2="668.3" stroke="#000" stroke-width="1.5"/>
<line x1="52.65" y1="652.5" x2="59.949999999999996" y2="652.5" stroke="#000" stroke-width="1.6"/>
<line x1="52.65" y1="668.3" x2="59.949999999999996" y2="668.3" stroke="#000" stroke-width="1.6"/>
<circle cx="56.0" cy="657.5" r="4.5" fill="#000"/>
<circle cx="56.3" cy="662.2" r="4.2" fill="#fff" stroke="#000" stroke-width="1.5"/>
<line x1="77.7" y1="629.4" x2="77.7" y2="648" stroke="#000" stroke-width="1.5"/>
<line x1="74.05" y1="629.4" x2="81.35000000000001" y2="629.4" stroke="#000" stroke-width="1.6"/>
<line x1="74.05" y1="648" x2="81.35000000000001" y2="648" stroke="#000" stroke-width="1.6"/>
<circle cx="77.6" cy="638.7" r="5.0" fill="#000"/>
<circle cx="80.9" cy="659.0" r="4.2" fill="#fff" stroke="#000" stroke-width="1.5"/>
<line x1="97.3" y1="595.2" x2="97.3" y2="636" stroke="#000" stroke-width="1.5"/>
<line x1="93.64999999999999" y1="595.2" x2="100.95" y2="595.2" stroke="#000" stroke-width="1.6"/>
<line x1="93.64999999999999" y1="636" x2="100.95" y2="636" stroke="#000" stroke-width="1.6"/>
<circle cx="96.9" cy="615.8" r="5.0" fill="#000"/>
<circle cx="102.3" cy="621.2" r="4.2" fill="#fff" stroke="#000" stroke-width="1.5"/>
<line x1="118.8" y1="571.5" x2="118.8" y2="594.3" stroke="#000" stroke-width="1.5"/>
<line x1="115.14999999999999" y1="571.5" x2="122.45" y2="571.5" stroke="#000" stroke-width="1.6"/>
<line x1="115.14999999999999" y1="594.3" x2="122.45" y2="594.3" stroke="#000" stroke-width="1.6"/>
<circle cx="118.8" cy="583.7" r="5.0" fill="#000"/>
<line x1="123.2" y1="618.4" x2="123.2" y2="643" stroke="#000" stroke-width="1.5"/>
<line x1="119.55" y1="618.4" x2="126.85000000000001" y2="618.4" stroke="#000" stroke-width="1.6"/>
<line x1="119.55" y1="643" x2="126.85000000000001" y2="643" stroke="#000" stroke-width="1.6"/>
<circle cx="123.2" cy="630.2" r="4.2" fill="#fff" stroke="#000" stroke-width="1.5"/>
<line x1="161.7" y1="586.1" x2="161.7" y2="620" stroke="#000" stroke-width="1.5"/>
<circle cx="161.9" cy="605.0" r="5.0" fill="#000"/>
<line x1="165.8" y1="612.3" x2="165.8" y2="637" stroke="#000" stroke-width="1.5"/>
<line x1="162.15" y1="612.3" x2="169.45000000000002" y2="612.3" stroke="#000" stroke-width="1.6"/>
<line x1="162.15" y1="637" x2="169.45000000000002" y2="637" stroke="#000" stroke-width="1.6"/>
<circle cx="165.8" cy="624.9" r="4.2" fill="#fff" stroke="#000" stroke-width="1.5"/>
<line x1="203.3" y1="543.8" x2="203.3" y2="589.5" stroke="#000" stroke-width="1.5"/>
<line x1="199.65" y1="543.8" x2="206.95000000000002" y2="543.8" stroke="#000" stroke-width="1.6"/>
<line x1="199.65" y1="589.5" x2="206.95000000000002" y2="589.5" stroke="#000" stroke-width="1.6"/>
<line x1="208.2" y1="531.1" x2="208.2" y2="579.5" stroke="#000" stroke-width="1.5"/>
<line x1="204.54999999999998" y1="531.1" x2="211.85" y2="531.1" stroke="#000" stroke-width="1.6"/>
<line x1="204.54999999999998" y1="579.5" x2="211.85" y2="579.5" stroke="#000" stroke-width="1.6"/>
<circle cx="205.5" cy="566.5" r="5.0" fill="#000"/>
<circle cx="208.3" cy="555.4" r="4.2" fill="#fff" stroke="#000" stroke-width="1.5"/>
<line x1="266.15" y1="367.2" x2="266.15" y2="380.4" stroke="#000" stroke-width="1.5"/>
<line x1="262.65" y1="367.2" x2="269.65" y2="367.2" stroke="#000" stroke-width="1.6"/>
<line x1="262.65" y1="380.4" x2="269.65" y2="380.4" stroke="#000" stroke-width="1.6"/>
<line x1="269.75" y1="367.2" x2="269.75" y2="380.4" stroke="#000" stroke-width="1.5"/>
<line x1="266.25" y1="367.2" x2="273.25" y2="367.2" stroke="#000" stroke-width="1.6"/>
<line x1="266.25" y1="380.4" x2="273.25" y2="380.4" stroke="#000" stroke-width="1.6"/>
<circle cx="264.7" cy="373.6" r="5.0" fill="#000"/>
<circle cx="271.2" cy="373.8" r="4.2" fill="#fff" stroke="#000" stroke-width="1.5"/>
<line x1="309.7" y1="367.2" x2="309.7" y2="380.4" stroke="#000" stroke-width="1.5"/>
<line x1="306.2" y1="367.2" x2="313.2" y2="367.2" stroke="#000" stroke-width="1.6"/>
<line x1="306.2" y1="380.4" x2="313.2" y2="380.4" stroke="#000" stroke-width="1.6"/>
<line x1="313.3" y1="367.2" x2="313.3" y2="380.4" stroke="#000" stroke-width="1.5"/>
<line x1="309.8" y1="367.2" x2="316.8" y2="367.2" stroke="#000" stroke-width="1.6"/>
<line x1="309.8" y1="380.4" x2="316.8" y2="380.4" stroke="#000" stroke-width="1.6"/>
<circle cx="308.5" cy="373.6" r="5.0" fill="#000"/>
<circle cx="314.5" cy="373.8" r="4.2" fill="#fff" stroke="#000" stroke-width="1.5"/>
<line x1="352.09999999999997" y1="367.2" x2="352.09999999999997" y2="380.4" stroke="#000" stroke-width="1.5"/>
<line x1="348.59999999999997" y1="367.2" x2="355.59999999999997" y2="367.2" stroke="#000" stroke-width="1.6"/>
<line x1="348.59999999999997" y1="380.4" x2="355.59999999999997" y2="380.4" stroke="#000" stroke-width="1.6"/>
<line x1="355.7" y1="367.2" x2="355.7" y2="380.4" stroke="#000" stroke-width="1.5"/>
<line x1="352.2" y1="367.2" x2="359.2" y2="367.2" stroke="#000" stroke-width="1.6"/>
<line x1="352.2" y1="380.4" x2="359.2" y2="380.4" stroke="#000" stroke-width="1.6"/>
<circle cx="350.8" cy="373.6" r="5.0" fill="#000"/>
<circle cx="357.0" cy="373.8" r="4.2" fill="#fff" stroke="#000" stroke-width="1.5"/>
<line x1="500.90000000000003" y1="367.2" x2="500.90000000000003" y2="380.4" stroke="#000" stroke-width="1.5"/>
<line x1="497.40000000000003" y1="367.2" x2="504.40000000000003" y2="367.2" stroke="#000" stroke-width="1.6"/>
<line x1="497.40000000000003" y1="380.4" x2="504.40000000000003" y2="380.4" stroke="#000" stroke-width="1.6"/>
<line x1="504.50000000000006" y1="367.2" x2="504.50000000000006" y2="380.4" stroke="#000" stroke-width="1.5"/>
<line x1="501.00000000000006" y1="367.2" x2="508.00000000000006" y2="367.2" stroke="#000" stroke-width="1.6"/>
<line x1="501.00000000000006" y1="380.4" x2="508.00000000000006" y2="380.4" stroke="#000" stroke-width="1.6"/>
<circle cx="499.8" cy="373.6" r="5.0" fill="#000"/>
<circle cx="505.6" cy="373.8" r="4.2" fill="#fff" stroke="#000" stroke-width="1.5"/>
<circle cx="73.4" cy="672.0" r="0.9" fill="#000"/>
<circle cx="330.5" cy="200.2" r="4.65" fill="#fff" stroke="#000" stroke-width="1.45"/>
<text x="343.4" y="204.9" font-size="14" stroke="#000" stroke-width="0.45" >CD8</text>
<text x="371.8" y="199.3" font-size="9.5" stroke="#000" stroke-width="0.45" >+</text>
<text x="379.8" y="204.9" font-size="14" stroke="#000" stroke-width="0.45" >CD4</text>
<text x="408.2" y="199.0" font-size="10" stroke="#000" stroke-width="0.45" >-</text>
<text x="415.8" y="204.9" font-size="14" stroke="#000" stroke-width="0.45" >DEC-205</text>
<text x="472.3" y="199.3" font-size="9.5" stroke="#000" stroke-width="0.45" >+</text>
<path d="M325.30,222.80 L335.70,222.80 L330.50,212.60 Z" fill="#000"/>
<text x="343.6" y="222.7" font-size="14" stroke="#000" stroke-width="0.45" >CD8</text>
<text x="371.8" y="217.2" font-size="10" stroke="#000" stroke-width="0.45" >-</text>
<text x="379.8" y="222.7" font-size="14" stroke="#000" stroke-width="0.45" >CD4</text>
<text x="407.2" y="217.0" font-size="10" stroke="#000" stroke-width="0.45" >-</text>
<text x="415.8" y="222.7" font-size="14" stroke="#000" stroke-width="0.45" >DEC-205</text>
<text x="472.1" y="216.6" font-size="9.5" stroke="#000" stroke-width="0.45" >+</text>
<circle cx="367.5" cy="538.6" r="5.3" fill="#000"/>
<text x="374.9" y="543.5" font-size="14" stroke="#000" stroke-width="0.45" >MHC Class</text>
<path d="M449.60,534.40H452.60V535.30H452.10V542.90H452.60V543.80H449.60V542.90H450.10V535.30H449.60Z" fill="#000"/>
<path d="M454.60,534.40H457.60V535.30H457.10V542.90H457.60V543.80H454.60V542.90H455.10V535.30H454.60Z" fill="#000"/>
<text x="459.3" y="537.3" font-size="11" stroke="#000" stroke-width="0.45" letter-spacing="0.4">lo</text>
<circle cx="367.5" cy="556.6" r="4.45" fill="#fff" stroke="#000" stroke-width="1.5"/>
<text x="374.9" y="561.4" font-size="14" stroke="#000" stroke-width="0.45" >MHC Class</text>
<path d="M449.80,552.10H452.80V553.00H452.30V560.50H452.80V561.40H449.80V560.50H450.30V553.00H449.80Z" fill="#000"/>
<path d="M454.80,552.10H457.80V553.00H457.30V560.50H457.80V561.40H454.80V560.50H455.30V553.00H454.80Z" fill="#000"/>
<text x="459.6" y="555.0" font-size="11" stroke="#000" stroke-width="0.45" letter-spacing="0.4">hi</text>
</svg>
</body></html>
